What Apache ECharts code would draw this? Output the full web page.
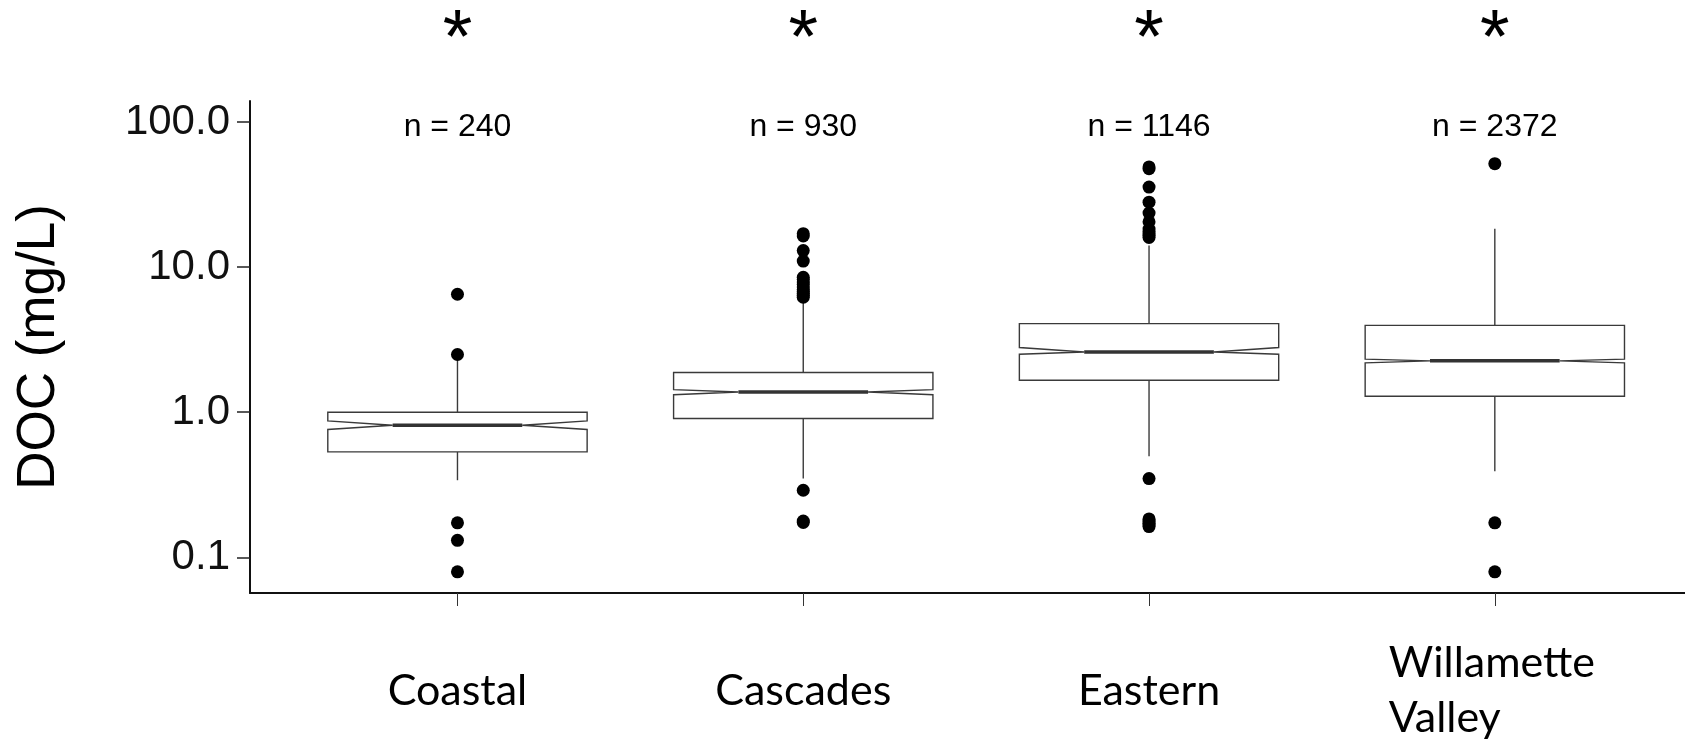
<!DOCTYPE html>
<html>
<head>
<meta charset="utf-8">
<title>DOC by ecoregion</title>
<script src="https://cdn.jsdelivr.net/npm/echarts@6/dist/echarts.min.js"></script>
<style>
  html, body { margin: 0; padding: 0; background: #fff; }
  #chart { width: 1685px; height: 740px; }
</style>
</head>
<body>
<div id="chart"></div>
<script>
// Region names shown under the x axis, with sample sizes above each box
const categories = ['Coastal', 'Cascades', 'Eastern', 'Willamette\nValley'];
const sampleCounts = [240, 930, 1146, 2372];
const significance = ['*', '*', '*', '*'];

// Box statistics per region (mg/L):
// [lower whisker, Q1, notch low, median, notch high, Q3, upper whisker]
const coastalStats    = [0.34, 0.533, 0.76, 0.814, 0.871, 1.00, 2.40];
const cascadesStats   = [0.349, 0.905, 1.32, 1.38, 1.43, 1.876, 5.9];
const easternStats    = [0.498, 1.66, 2.51, 2.60, 2.79, 4.08, 14.1];
const willametteStats = [0.392, 1.29, 2.19, 2.26, 2.32, 3.97, 18.4];

// Values beyond the whiskers (mg/L)
const coastalOutliers    = [6.5, 2.5, 0.173, 0.131, 0.0795];
const cascadesOutliers   = [17.0, 16.4, 13.0, 11.0, 8.5, 8.2, 7.9, 7.6, 7.3, 7.0, 6.8, 6.6, 6.4, 6.2, 0.29, 0.178, 0.174];
const easternOutliers    = [49.0, 47.6, 35.6, 28.0, 23.6, 20.5, 18.3, 17.6, 17.0, 16.5, 16.0, 0.349, 0.184, 0.178, 0.172, 0.167, 0.163];
const willametteOutliers = [51.6, 0.173, 0.0795];

// Y axis tick labels
const yTicks = [0.1, 1, 10, 100];

const regionStats = [coastalStats, cascadesStats, easternStats, willametteStats];
const regionOutliers = [coastalOutliers, cascadesOutliers, easternOutliers, willametteOutliers];
const positions = categories.map((c, i) => i + 1);

const boxData = regionStats.map((s, i) => [positions[i]].concat(s));
const outlierData = [];
regionOutliers.forEach((list, i) => list.forEach(v => outlierData.push([positions[i], v])));

const BOX_WIDTH = 0.75;
const X_MIN = 0.4, X_MAX = 4.55;
const SANS = "'Liberation Sans', Arial, sans-serif";
const LABEL_FONT = "Lato, 'Open Sans', sans-serif";

function renderNotchedBox(params, api) {
  const x = api.value(0);
  const wLo = api.value(1), q1 = api.value(2), nLo = api.value(3), med = api.value(4),
        nHi = api.value(5), q3 = api.value(6), wHi = api.value(7);
  const halfW = api.size([BOX_WIDTH, 0], [x, med])[0] / 2;
  const cx = api.coord([x, med])[0];
  const y = v => api.coord([x, v])[1];
  const L = cx - halfW, R = cx + halfW, Li = cx - halfW / 2, Ri = cx + halfW / 2;
  const outline = [
    [L, y(q3)], [R, y(q3)], [R, y(nHi)], [Ri, y(med)], [R, y(nLo)], [R, y(q1)],
    [L, y(q1)], [L, y(nLo)], [Li, y(med)], [L, y(nHi)]
  ];
  const whisker = { stroke: '#3a3a3a', lineWidth: 1.4 };
  return {
    type: 'group',
    children: [
      { type: 'line', shape: { x1: cx, y1: y(q3), x2: cx, y2: y(wHi) }, style: whisker },
      { type: 'line', shape: { x1: cx, y1: y(q1), x2: cx, y2: y(wLo) }, style: whisker },
      { type: 'polygon', shape: { points: outline },
        style: { fill: '#ffffff', stroke: '#3a3a3a', lineWidth: 1.4 } },
      { type: 'line', shape: { x1: Li, y1: y(med), x2: Ri, y2: y(med) },
        style: { stroke: '#333333', lineWidth: 3.5 } }
    ]
  };
}

function categoryLabel(v) {
  const name = categories[Math.round(v) - 1] || '';
  const lines = name.split('\n');
  const tag = lines.length > 1 ? 'w' : 'c';
  return lines.map(s => '{' + tag + '|' + s + '}').join('\n');
}

const chart = echarts.init(document.getElementById('chart'), null, { renderer: 'canvas' });

chart.setOption({
  animation: false,
  backgroundColor: '#ffffff',
  grid: { left: 250, right: 0, top: 101, bottom: 147, containLabel: false, outerBoundsMode: 'none' },
  xAxis: [
    {
      type: 'value', min: X_MIN, max: X_MAX, position: 'bottom',
      axisLine: { show: true, onZero: false, lineStyle: { color: '#111', width: 2 } },
      axisTick: { show: true, customValues: positions, length: 13, lineStyle: { color: '#333', width: 1 } },
      axisLabel: {
        customValues: positions, formatter: categoryLabel,
        margin: 98, verticalAlign: 'middle',
        rich: {
          c: { fontFamily: LABEL_FONT, fontSize: 43, color: '#000', lineHeight: 55 },
          w: { fontFamily: LABEL_FONT, fontSize: 43, color: '#000', lineHeight: 55, width: 212, align: 'left' }
        }
      },
      splitLine: { show: false }
    },
    {
      type: 'value', min: X_MIN, max: X_MAX, position: 'top',
      axisLine: { show: false }, axisTick: { show: false }, splitLine: { show: false },
      axisLabel: {
        inside: true, customValues: positions, margin: 26, verticalAlign: 'middle',
        formatter: v => 'n = ' + sampleCounts[Math.round(v) - 1],
        fontFamily: SANS, fontSize: 32, color: '#000'
      }
    },
    {
      type: 'value', min: X_MIN, max: X_MAX, position: 'top',
      axisLine: { show: false }, axisTick: { show: false }, splitLine: { show: false },
      axisLabel: {
        customValues: positions, margin: 60, verticalAlign: 'middle',
        formatter: v => significance[Math.round(v) - 1],
        fontFamily: SANS, fontSize: 76, fontWeight: 'normal', color: '#000'
      }
    }
  ],
  yAxis: {
    type: 'log', logBase: 10, min: 0.0568, max: 139.5,
    name: 'DOC (mg/L)', nameLocation: 'middle', nameGap: 184,
    nameTextStyle: { fontFamily: SANS, fontSize: 53, color: '#000' },
    axisLine: { show: true, onZero: false, lineStyle: { color: '#111', width: 2 } },
    axisTick: { show: true, customValues: yTicks, length: 13, lineStyle: { color: '#222', width: 1.5 } },
    axisLabel: {
      customValues: yTicks, margin: 20,
      formatter: v => Number(v).toFixed(1),
      fontFamily: SANS, fontSize: 42, color: '#111'
    },
    splitLine: { show: false },
    minorTick: { show: false }
  },
  series: [
    {
      type: 'custom', name: 'DOC', xAxisIndex: 0, yAxisIndex: 0,
      renderItem: renderNotchedBox,
      encode: { x: 0, y: [1, 2, 3, 4, 5, 6, 7] },
      data: boxData, z: 2
    },
    {
      type: 'scatter', name: 'Outliers', xAxisIndex: 0, yAxisIndex: 0,
      symbol: 'circle', symbolSize: 13,
      itemStyle: { color: '#000', opacity: 1 },
      data: outlierData, z: 3
    }
  ]
});
</script>
</body>
</html>
